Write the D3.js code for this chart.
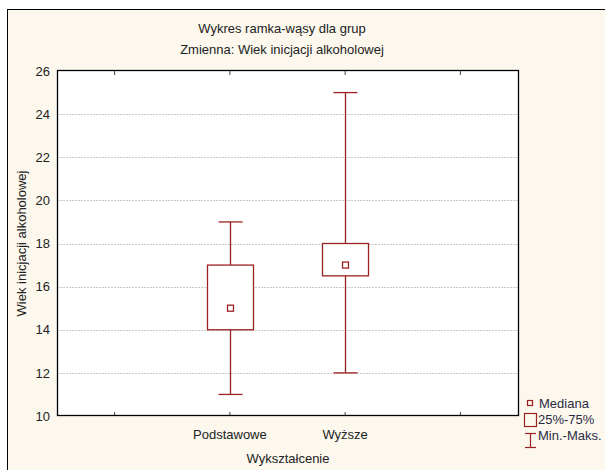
<!DOCTYPE html>
<html>
<head>
<meta charset="utf-8">
<script src="https://cdn.jsdelivr.net/npm/d3@7"></script>
<style>
  body { margin: 0; background: #fff; }
  text { font-family: "Liberation Sans Narrow", "Arial Narrow", "Liberation Sans", sans-serif; fill: #222; }
</style>
</head>
<body>
<div id="chart"></div>
<script>
const WIDTH = 605;
const HEIGHT = 470;
const MARGINS = {left: 57, right: 87, top: 71, bottom: 54};

// data
const categories = ["", "Podstawowe", "Wyższe", ""];
const groups = ["Podstawowe", "Wyższe"];
const mins = [11, 12];
const q1s = [14, 16.5];
const medians = [15, 17];
const q3s = [17, 18];
const maxs = [19, 25];
const yTicks = [10, 12, 14, 16, 18, 20, 22, 24, 26];

const BOX_COLOR = "#9b2222";

let svg = d3.select("#chart")
  .append("svg")
    .attr("width", WIDTH)
    .attr("height", HEIGHT);

// background frame
svg.append("rect")
  .attr("x", 7.5).attr("y", 9.5)
  .attr("width", WIDTH + 10).attr("height", HEIGHT + 10)
  .attr("fill", "#fdf8ee")
  .attr("stroke", "#000");

let x = d3.scaleBand()
  .domain(d3.range(categories.length))
  .range([MARGINS.left, WIDTH - MARGINS.right]);

let y = d3.scaleLinear()
  .domain([10, 26])
  .range([HEIGHT - MARGINS.bottom, MARGINS.top]);

// plot area
svg.append("rect")
  .attr("x", MARGINS.left).attr("y", MARGINS.top)
  .attr("width", WIDTH - MARGINS.left - MARGINS.right)
  .attr("height", HEIGHT - MARGINS.top - MARGINS.bottom)
  .attr("fill", "#fff");

// grid lines
svg.append("g")
  .selectAll("line")
  .data(yTicks.slice(1, -1))
  .join("line")
    .attr("x1", MARGINS.left).attr("x2", WIDTH - MARGINS.right)
    .attr("y1", d => Math.round(y(d)) + 0.5).attr("y2", d => Math.round(y(d)) + 0.5)
    .attr("stroke", "#c8c8c8")
    .attr("stroke-dasharray", "2,1");

// axes
let yAxis = svg.append("g")
  .attr("transform", "translate(" + MARGINS.left + ",0)")
  .call(d3.axisLeft(y).tickValues(yTicks).tickSize(0).tickPadding(7));
yAxis.select(".domain").remove();
yAxis.selectAll("text").style("font-size", "13px");

let xAxis = svg.append("g")
  .attr("transform", "translate(0," + (HEIGHT - MARGINS.bottom) + ")")
  .call(d3.axisBottom(x).tickFormat(i => categories[i]).tickSize(-4).tickPadding(14));
xAxis.select(".domain").remove();
xAxis.selectAll("line").attr("stroke", "#444");
xAxis.selectAll("text").style("font-size", "13px");

let xTop = svg.append("g")
  .attr("transform", "translate(0," + MARGINS.top + ")")
  .call(d3.axisTop(x).tickFormat("").tickSize(-4));
xTop.select(".domain").remove();
xTop.selectAll("line").attr("stroke", "#444");

// plot border
svg.append("rect")
  .attr("x", MARGINS.left + 0.5).attr("y", MARGINS.top - 0.5)
  .attr("width", WIDTH - MARGINS.left - MARGINS.right)
  .attr("height", HEIGHT - MARGINS.top - MARGINS.bottom)
  .attr("fill", "none")
  .attr("stroke", "#000")
  .attr("stroke-width", 1.3);

// boxes
let boxW = 46;
let capW = 24;
groups.forEach((g, i) => {
  let cx = Math.round(x(categories.indexOf(g)) + x.bandwidth() / 2) + 0.5;
  let bg = svg.append("g").attr("stroke", BOX_COLOR).attr("stroke-width", 1.3).attr("fill", "none");
  bg.append("line")
    .attr("x1", cx).attr("x2", cx)
    .attr("y1", y(maxs[i])).attr("y2", y(q3s[i]));
  bg.append("line")
    .attr("x1", cx).attr("x2", cx)
    .attr("y1", y(q1s[i])).attr("y2", y(mins[i]));
  bg.append("line")
    .attr("x1", cx - capW / 2).attr("x2", cx + capW / 2)
    .attr("y1", y(maxs[i])).attr("y2", y(maxs[i]));
  bg.append("line")
    .attr("x1", cx - capW / 2).attr("x2", cx + capW / 2)
    .attr("y1", y(mins[i])).attr("y2", y(mins[i]));
  bg.append("rect")
    .attr("x", cx - boxW / 2).attr("y", y(q3s[i]))
    .attr("width", boxW).attr("height", y(q1s[i]) - y(q3s[i]))
    .attr("fill", "#fff");
  bg.append("rect")
    .attr("x", cx - 3).attr("y", y(medians[i]) - 3)
    .attr("width", 6).attr("height", 6)
    .attr("fill", "#fff");
});

// titles
svg.append("text")
  .attr("x", 282).attr("y", 33)
  .attr("text-anchor", "middle")
  .style("font-size", "13px")
  .text("Wykres ramka-wąsy dla grup");
svg.append("text")
  .attr("x", 282).attr("y", 54)
  .attr("text-anchor", "middle")
  .style("font-size", "13px")
  .text("Zmienna:  Wiek inicjacji alkoholowej");

svg.append("text")
  .attr("transform", "translate(26," + ((MARGINS.top + HEIGHT - MARGINS.bottom) / 2) + ") rotate(-90)")
  .attr("text-anchor", "middle")
  .style("font-size", "13px")
  .text("Wiek inicjacji alkoholowej");

svg.append("text")
  .attr("x", 288).attr("y", 463)
  .attr("text-anchor", "middle")
  .style("font-size", "13px")
  .text("Wykształcenie");

// legend
let lg = svg.append("g").attr("stroke", BOX_COLOR).attr("stroke-width", 1.2).attr("fill", "none");
lg.append("rect").attr("x", 527.5).attr("y", 400.5).attr("width", 5).attr("height", 5);
lg.append("rect").attr("x", 524.5).attr("y", 413.5).attr("width", 12).attr("height", 13);
lg.append("line").attr("x1", 530.5).attr("x2", 530.5).attr("y1", 433).attr("y2", 448);
lg.append("line").attr("x1", 525).attr("x2", 536).attr("y1", 433.5).attr("y2", 433.5);
lg.append("line").attr("x1", 525).attr("x2", 536).attr("y1", 447.5).attr("y2", 447.5);

let legendLabels = ["Mediana", "25%-75%", "Min.-Maks."];
svg.append("g")
  .selectAll("text")
  .data(legendLabels)
  .join("text")
    .attr("x", (d, i) => i === 0 ? 539 : 538)
    .attr("y", (d, i) => 408 + i * 16)
    .style("font-size", "13px")
    .style("fill", "#2a2a44")
    .text(d => d);
</script>
</body>
</html>
